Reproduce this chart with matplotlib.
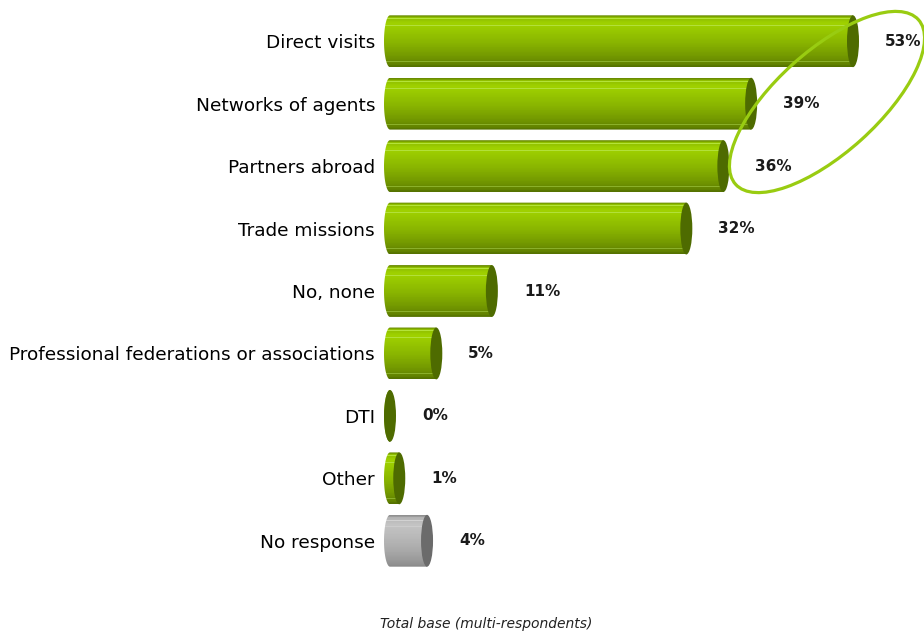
import numpy as np
import matplotlib
matplotlib.use("Agg")
import matplotlib.pyplot as plt
from matplotlib.patches import Ellipse, Polygon
from matplotlib.colors import to_rgb

# ---- data -------------------------------------------------------------
categories = [
    "Direct visits",
    "Networks of agents",
    "Partners abroad",
    "Trade missions",
    "No, none",
    "Professional federations or associations",
    "DTI",
    "Other",
    "No response",
]
values = [53, 39, 36, 32, 11, 5, 0, 1, 4]
value_labels = ["53%", "39%", "36%", "32%", "11%", "5%", "0%", "1%", "4%"]
grey_rows = ["No response"]
axis_max = 50          # value axis ends at 50%, longer bars are cut there
footer = "Total base (multi-respondents)"

# ---- styling ------------------------------------------------------------
W, H, DPI = 924, 632, 100
PX_PER_UNIT = 9.26      # horizontal pixels per percentage point
AX_LEFT_PX, AX_RIGHT_PX = 375, 924
ZERO_PX = 390
AX_TOP_PX, AX_BOTTOM_PX = 10, 572
BAR_H = 0.83
CAP_RX_PX = 6.0

green_stops = [(0.00, "#6a8c00"), (0.04, "#8fbe00"), (0.16, "#a0d200"),
               (0.32, "#96c600"), (0.55, "#88b300"), (0.80, "#739800"),
               (0.94, "#638400"), (1.00, "#557200")]
green_stripes = [(0.07, "#b4e33a"), (0.11, "#b0de30"), (0.19, "#b2e03a"),
                 (0.37, "#a4d31a"), (0.87, "#9fc43a"), (0.91, "#8bb02a")]
green_cap = "#4e6b00"

grey_stops = [(0.00, "#909090"), (0.05, "#b4b4b4"), (0.18, "#c4c4c4"),
              (0.40, "#bababa"), (0.65, "#acacac"), (0.85, "#9c9c9c"),
              (1.00, "#8a8a8a")]
grey_stripes = [(0.10, "#d2d2d2"), (0.22, "#cccccc"), (0.88, "#bdbdbd")]
grey_cap = "#6b6b6b"


def gradient(stops, stripes, n=64):
    pos = np.array([s[0] for s in stops])
    cols = np.array([to_rgb(s[1]) for s in stops])
    t = np.linspace(0, 1, n)
    img = np.stack([np.interp(t, pos, cols[:, k]) for k in range(3)], axis=1)
    for f, c in stripes:
        img[int(round(f * (n - 1)))] = to_rgb(c)
    return img[:, None, :]


fig = plt.figure(figsize=(W / DPI, H / DPI), dpi=DPI)
ax = fig.add_axes([AX_LEFT_PX / W, 1 - AX_BOTTOM_PX / H,
                   (AX_RIGHT_PX - AX_LEFT_PX) / W,
                   (AX_BOTTOM_PX - AX_TOP_PX) / H])

x_min = (AX_LEFT_PX - ZERO_PX) / PX_PER_UNIT
x_max = (AX_RIGHT_PX - ZERO_PX) / PX_PER_UNIT
rx = CAP_RX_PX / PX_PER_UNIT
n = len(categories)

for i, (cat, v) in enumerate(zip(categories, values)):
    is_grey = cat in grey_rows
    stops, stripes, cap = ((grey_stops, grey_stripes, grey_cap) if is_grey
                           else (green_stops, green_stripes, green_cap))
    length = min(v, axis_max)
    top, bot = i - BAR_H / 2, i + BAR_H / 2

    # cylinder body: rounded left end + straight part up to the bar length
    t = np.linspace(-np.pi / 2, np.pi / 2, 40)
    left = np.column_stack([-rx * np.cos(t), i + (BAR_H / 2) * np.sin(t)])
    body = np.vstack([left, [[length, bot], [length, top]]])
    clip = Polygon(body, closed=True, transform=ax.transData,
                   facecolor="none", edgecolor="none")
    ax.add_patch(clip)
    im = ax.imshow(gradient(stops, stripes), extent=(-rx, length + rx, bot, top),
                   origin="upper", aspect="auto", interpolation="nearest",
                   zorder=2)
    im.set_clip_path(clip)

    # dark end cap
    ax.add_patch(Ellipse((length, i), 2 * rx, BAR_H, facecolor=cap,
                         edgecolor="none", zorder=3))

    ax.annotate(value_labels[i], xy=(length, i), xytext=(32, 0),
                textcoords="offset pixels", ha="left", va="center",
                fontsize=11, fontweight="bold", color="#1a1a1a",
                annotation_clip=False)

ax.set_xlim(x_min, x_max)
ax.set_ylim(n - 0.5, -0.5)
ax.set_yticks(range(n))
ax.set_yticklabels(categories, fontsize=13.3, color="#000000")
ax.set_xticks([])
ax.tick_params(axis="y", length=0, pad=0)
for s in ax.spines.values():
    s.set_visible(False)
ax.patch.set_alpha(0)

# highlight ring around the three leading answers
over = fig.add_axes([0, 0, 1, 1], zorder=5)
over.set_xlim(0, W)
over.set_ylim(H, 0)
over.axis("off")
over.patch.set_alpha(0)
over.add_patch(Ellipse((827, 102), 246, 102, angle=-42, facecolor="none",
                       edgecolor="#99cc11", linewidth=2.3))

fig.text(486 / W, 1 - 624 / H, footer, ha="center", va="center",
         fontsize=10, style="italic", color="#222222")

fig.savefig("out.png", dpi=DPI)
